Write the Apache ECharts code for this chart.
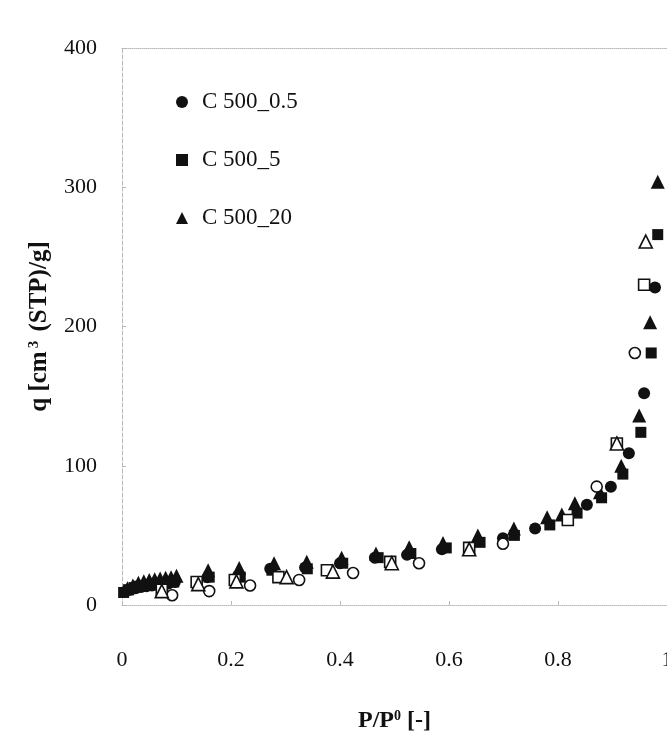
<!DOCTYPE html>
<html>
<head>
<meta charset="utf-8">
<script src="https://cdn.jsdelivr.net/npm/echarts@6/dist/echarts.min.js"></script>
<style>
  html, body { margin: 0; padding: 0; background: #fff; }
  #main { width: 667px; height: 735px; }
</style>
</head>
<body>
<div id="main"></div>
<script>
// axis ticks
var xTicks = [0, 0.2, 0.4, 0.6, 0.8, 1];
var yTicks = [0, 100, 200, 300, 400];

// adsorption branches (filled markers) [P/P0, q]
var ads05 = [[0.006, 9.5], [0.015, 11], [0.025, 12], [0.035, 13], [0.045, 13.5], [0.055, 14], [0.065, 14.5], [0.075, 15], [0.085, 15.5], [0.097, 16.5],
  [0.157, 20], [0.213, 21], [0.272, 26], [0.336, 27], [0.4, 30], [0.464, 34], [0.523, 36], [0.587, 40], [0.699, 48], [0.758, 55],
  [0.853, 72], [0.897, 85], [0.93, 109], [0.958, 152], [0.978, 228]];
var ads5 = [[0.003, 9], [0.012, 11], [0.022, 12.5], [0.032, 13.5], [0.042, 14], [0.052, 14.5], [0.062, 15], [0.072, 15.5], [0.082, 16], [0.095, 16.5],
  [0.16, 20], [0.217, 20], [0.275, 25], [0.34, 26], [0.405, 30], [0.47, 34], [0.53, 37], [0.595, 41], [0.657, 45], [0.72, 50],
  [0.785, 57.5], [0.835, 66], [0.88, 77], [0.919, 94], [0.952, 124], [0.971, 181], [0.983, 266]];
var ads20 = [[0.01, 12], [0.02, 14], [0.03, 16], [0.04, 17], [0.05, 18], [0.06, 18.5], [0.07, 19], [0.08, 19.5], [0.09, 20], [0.1, 21],
  [0.158, 25], [0.215, 26.5], [0.279, 30], [0.339, 31], [0.403, 34], [0.466, 37], [0.527, 41.5], [0.589, 44.5], [0.653, 50], [0.719, 55],
  [0.78, 63], [0.807, 65], [0.831, 73], [0.877, 81], [0.916, 100], [0.949, 136], [0.969, 203], [0.983, 304]];

// desorption branches (open markers)
var des05 = [[0.941, 181], [0.871, 85], [0.699, 44], [0.545, 30], [0.424, 23], [0.325, 18], [0.235, 14], [0.16, 10], [0.092, 7]];
var des5 = [[0.958, 230], [0.908, 116], [0.818, 61], [0.637, 41], [0.492, 31], [0.376, 25], [0.287, 20], [0.207, 18], [0.137, 16.5], [0.073, 11]];
var des20 = [[0.961, 261], [0.908, 116], [0.637, 40], [0.495, 30], [0.387, 24], [0.302, 20], [0.21, 17], [0.14, 15], [0.073, 10]];

var legendNames = ['C 500_0.5', 'C 500_5', 'C 500_20'];

var myChart = echarts.init(document.getElementById('main'));

var font = '"Liberation Serif", "Times New Roman", serif';
var ink = '#111';
var faint = '#b8b8b8';

function filled(name, data, symbol, size) {
  return {
    name: name, type: 'scatter', data: data, symbol: symbol, symbolSize: size,
    itemStyle: { color: ink, opacity: 1 }, z: 3
  };
}
function hollow(name, data, symbol, size) {
  return {
    name: name, type: 'scatter', data: data, symbol: symbol, symbolSize: size,
    itemStyle: { color: '#fff', borderColor: ink, borderWidth: 1.6, opacity: 1 }, z: 4
  };
}

var option = {
  backgroundColor: '#fff',
  animation: false,
  textStyle: { fontFamily: font },
  grid: { left: 122, right: 0, top: 48, bottom: 130, outerBoundsMode: 'none' },
  legend: {
    data: legendNames,
    orient: 'vertical',
    left: 171,
    top: 79,
    itemWidth: 12,
    itemHeight: 12,
    itemGap: 22,
    textStyle: { fontFamily: font, fontSize: 23, color: ink, lineHeight: 24, padding: [12, 0, 0, 9] }
  },
  xAxis: [{
    type: 'value', min: 0, max: 1, interval: 0.2,
    name: 'P/P{sup|0} [-]', nameLocation: 'middle', nameGap: 104,
    nameTextStyle: {
      fontFamily: font, fontSize: 24, fontWeight: 'bold', color: ink,
      rich: { sup: { fontFamily: font, fontSize: 14, fontWeight: 'bold', color: ink, verticalAlign: 'top' } }
    },
    axisLine: { show: true, lineStyle: { color: faint, type: 'dotted', width: 1 } },
    axisTick: { show: true, inside: true, length: 4, lineStyle: { color: faint } },
    axisLabel: {
      fontFamily: font, fontSize: 22, color: ink, margin: 44,
      formatter: function (v) { return xTicks.indexOf(Math.round(v * 10) / 10) >= 0 ? String(Math.round(v * 10) / 10) : ''; }
    },
    splitLine: { show: false }
  }, {
    type: 'value', min: 0, max: 1, position: 'top',
    axisLine: { show: true, lineStyle: { color: faint, type: 'dotted', width: 1 } },
    axisTick: { show: false }, axisLabel: { show: false }, splitLine: { show: false }
  }],
  yAxis: {
    type: 'value', min: 0, max: 400, interval: 100,
    name: 'q [cm{sup|3} (STP)/g]', nameLocation: 'middle', nameGap: 70,
    nameTextStyle: {
      fontFamily: font, fontSize: 25, fontWeight: 'bold', color: ink,
      rich: { sup: { fontFamily: font, fontSize: 15, fontWeight: 'bold', color: ink, verticalAlign: 'top', padding: [0, 3, 0, 3] } }
    },
    axisLine: { show: true, lineStyle: { color: faint, type: 'dashed', width: 1 } },
    axisTick: { show: true, inside: true, length: 4, lineStyle: { color: faint } },
    axisLabel: {
      fontFamily: font, fontSize: 22, color: ink, margin: 25,
      formatter: function (v) { return yTicks.indexOf(v) >= 0 ? String(v) : ''; }
    },
    splitLine: { show: false }
  },
  series: [
    filled('C 500_0.5', ads05, 'circle', 12),
    filled('C 500_5', ads5, 'rect', 11),
    filled('C 500_20', ads20, 'triangle', 14),
    hollow('C 500_0.5 des', des05, 'circle', 11),
    hollow('C 500_5 des', des5, 'rect', 11),
    hollow('C 500_20 des', des20, 'triangle', 13)
  ]
};

myChart.setOption(option);
</script>
</body>
</html>
